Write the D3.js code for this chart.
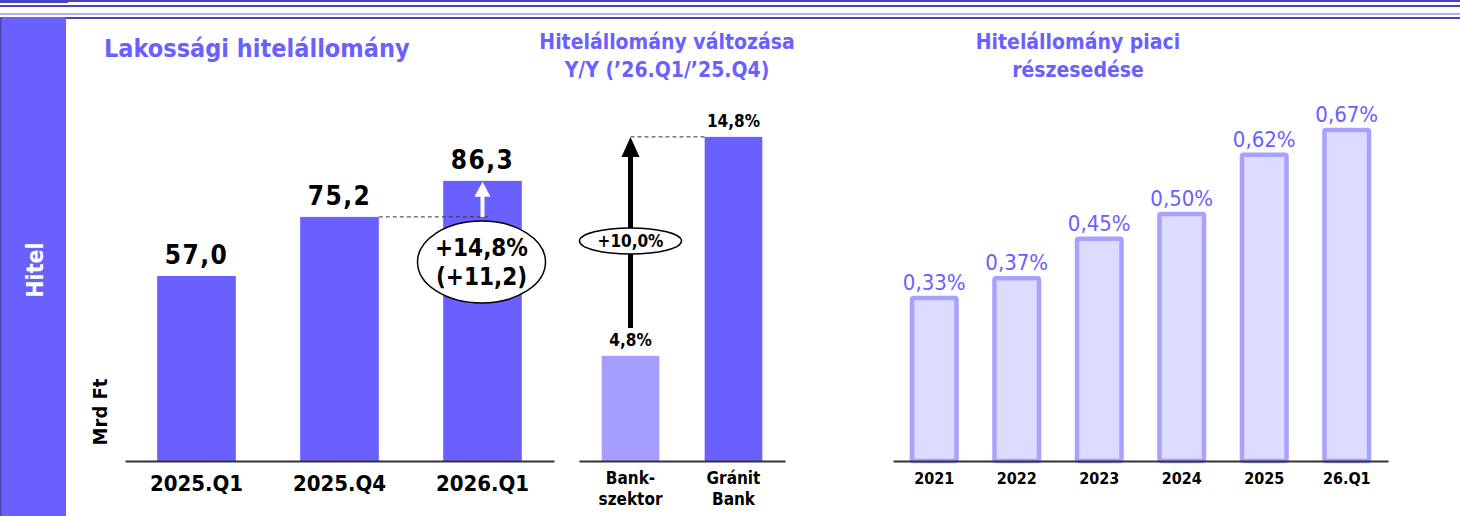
<!DOCTYPE html>
<html lang="hu">
<head>
    <meta charset="UTF-8">
    <title>Hitel</title>
    <script src="https://cdn.jsdelivr.net/npm/d3@7/dist/d3.min.js"></script>
    <style>
        body { margin: 0; background: #fff; }
        text { font-family: "DejaVu Sans Condensed", "DejaVu Sans", sans-serif; }
    </style>
</head>
<body>
<script>
    // data
    const stockCats = ['2025.Q1', '2025.Q4', '2026.Q1'];
    const stockValues = [57.0, 75.2, 86.3];
    const changeLabels = ['+14,8%', '(+11,2)'];

    const growthCats = [['Bank-', 'szektor'], ['Gránit', 'Bank']];
    const growthValues = [4.8, 14.8];
    const gapLabel = '+10,0%';

    const shareCats = ['2021', '2022', '2023', '2024', '2025', '26.Q1'];
    const shareValues = [0.33, 0.37, 0.45, 0.50, 0.62, 0.67];

    const width = 1460, height = 516;
    const purple = '#6a60ff', dark = '#4a44c4', base = 461;
    const hu = d3.formatLocale({decimal: ',', thousands: ' ', grouping: [3], currency: ['', '']});
    const f1 = hu.format('.1f'), f2 = hu.format('.2f');

    const svg = d3.select('body').append('svg').attr('width', width).attr('height', height);

    // header stripes + side panel
    svg.append('rect').attr('x', 0).attr('y', 0).attr('width', width).attr('height', 2).attr('fill', dark);
    svg.append('rect').attr('x', 0).attr('y', 0).attr('width', 68).attr('height', 3).attr('fill', dark);
    svg.append('rect').attr('x', 0).attr('y', 5).attr('width', width).attr('height', 2).attr('fill', dark);
    svg.append('rect').attr('x', 0).attr('y', 13).attr('width', width).attr('height', 2).attr('fill', '#b3afee');
    svg.append('rect').attr('x', 0).attr('y', 17).attr('width', width).attr('height', 2).attr('fill', dark);
    svg.append('rect').attr('x', 0).attr('y', 17).attr('width', 66).attr('height', height - 17).attr('fill', purple);
    svg.append('rect').attr('x', 0).attr('y', 17).attr('width', 1.5).attr('height', height - 17).attr('fill', '#4d48a8');
    svg.append('text').attr('transform', 'translate(43,270) rotate(-90)')
        .attr('text-anchor', 'middle').attr('fill', '#fff').attr('font-weight', 'bold')
        .attr('font-size', 23).text('Hitel');

    // titles
    const title = (x, y, txt, size, anchor) => svg.append('text').attr('x', x).attr('y', y)
        .attr('text-anchor', anchor).attr('fill', purple).attr('font-weight', 'bold')
        .attr('font-size', size).text(txt);
    title(104, 57, 'Lakossági hitelállomány', 25, 'start');
    title(667, 49, 'Hitelállomány változása', 21, 'middle');
    title(667, 77, 'Y/Y (’26.Q1/’25.Q4)', 21, 'middle');
    title(1078, 49, 'Hitelállomány piaci', 21, 'middle');
    title(1078, 77, 'részesedése', 21, 'middle');

    function baseAxis(x) {
        const g = svg.append('g').attr('transform', `translate(0,${base})`)
            .call(d3.axisBottom(x).tickSize(0).tickFormat(''));
        g.select('.domain').attr('stroke', '#333').attr('stroke-width', 2);
        return g;
    }

    // --- left: stock ---
    const x1 = d3.scaleBand().domain(stockCats).range([125, 554]).paddingInner(0.45).paddingOuter(0.225);
    const y1 = d3.scaleLinear().domain([0, 100]).range([base, base - 324.6]);
    svg.append('g').selectAll('rect').data(stockValues).join('rect')
        .attr('x', (d, i) => x1(stockCats[i])).attr('width', x1.bandwidth())
        .attr('y', d => y1(d)).attr('height', d => base - y1(d)).attr('fill', purple);
    svg.append('g').selectAll('text').data(stockValues).join('text')
        .attr('x', (d, i) => x1(stockCats[i]) + x1.bandwidth() / 2).attr('y', d => y1(d) - 12)
        .attr('text-anchor', 'middle').attr('font-weight', 'bold').attr('font-size', 26)
        .attr('letter-spacing', 1.5).text(d => f1(d));
    baseAxis(x1);
    svg.append('g').selectAll('text').data(stockCats).join('text')
        .attr('x', d => x1(d) + x1.bandwidth() / 2).attr('y', base + 30)
        .attr('text-anchor', 'middle').attr('font-weight', 'bold').attr('font-size', 22).text(d => d);
    svg.append('text').attr('transform', 'translate(107,412) rotate(-90)')
        .attr('text-anchor', 'middle').attr('font-weight', 'bold').attr('font-size', 20).text('Mrd Ft');

    const cx3 = x1(stockCats[2]) + x1.bandwidth() / 2;
    svg.append('line').attr('x1', x1(stockCats[1]) + x1.bandwidth()).attr('x2', cx3 + 8)
        .attr('y1', y1(stockValues[1])).attr('y2', y1(stockValues[1]))
        .attr('stroke', '#333').attr('stroke-dasharray', '4,3');
    svg.append('line').attr('x1', cx3).attr('x2', cx3).attr('y1', y1(stockValues[1]))
        .attr('y2', y1(stockValues[2]) + 14).attr('stroke', '#fff').attr('stroke-width', 4);
    svg.append('path').attr('fill', '#fff')
        .attr('d', `M${cx3 - 8},${y1(stockValues[2]) + 16}L${cx3},${y1(stockValues[2]) + 1}L${cx3 + 8},${y1(stockValues[2]) + 16}Z`);
    svg.append('ellipse').attr('cx', cx3 - 1).attr('cy', 262).attr('rx', 64).attr('ry', 41)
        .attr('fill', '#fff').attr('stroke', '#000').attr('stroke-width', 1.5);
    svg.append('g').selectAll('text').data(changeLabels).join('text')
        .attr('x', cx3 - 1).attr('y', (d, i) => 256 + i * 29)
        .attr('text-anchor', 'middle').attr('font-weight', 'bold').attr('font-size', 24).text(d => d);

    // --- middle: growth ---
    const gKey = i => growthCats[i].join(' ');
    const x2 = d3.scaleBand().domain(growthCats.map(d => d.join(' '))).range([579, 785]).paddingInner(0.44).paddingOuter(0.22);
    const y2 = d3.scaleLinear().domain([0, 16]).range([base, base - 350.4]);
    svg.append('g').selectAll('rect').data(growthValues).join('rect')
        .attr('x', (d, i) => x2(gKey(i))).attr('width', x2.bandwidth())
        .attr('y', d => y2(d)).attr('height', d => base - y2(d))
        .attr('fill', (d, i) => i === 0 ? '#a59eff' : purple);
    svg.append('g').selectAll('text').data(growthValues).join('text')
        .attr('x', (d, i) => x2(gKey(i)) + x2.bandwidth() / 2).attr('y', d => y2(d) - 10)
        .attr('text-anchor', 'middle').attr('font-weight', 'bold').attr('font-size', 17)
        .text(d => f1(d) + '%');
    baseAxis(x2);
    growthCats.forEach((lines, i) => {
        svg.append('text').attr('x', x2(gKey(i)) + x2.bandwidth() / 2).attr('y', base + 23)
            .attr('text-anchor', 'middle').attr('font-weight', 'bold').attr('font-size', 17)
            .selectAll('tspan').data(lines).join('tspan')
            .attr('x', x2(gKey(i)) + x2.bandwidth() / 2).attr('dy', (d, j) => j ? 21 : 0).text(d => d);
    });
    const ax = x2(gKey(0)) + x2.bandwidth() / 2;
    svg.append('line').attr('x1', ax).attr('x2', x2(gKey(1))).attr('y1', y2(growthValues[1])).attr('y2', y2(growthValues[1]))
        .attr('stroke', '#333').attr('stroke-dasharray', '4,3');
    svg.append('line').attr('x1', ax).attr('x2', ax).attr('y1', y2(growthValues[0]) - 28).attr('y2', y2(growthValues[1]) + 16)
        .attr('stroke', '#000').attr('stroke-width', 5);
    svg.append('path').attr('fill', '#000')
        .attr('d', `M${ax - 9},${y2(growthValues[1]) + 20}L${ax},${y2(growthValues[1])}L${ax + 9},${y2(growthValues[1]) + 20}Z`);
    svg.append('ellipse').attr('cx', ax).attr('cy', 241).attr('rx', 51).attr('ry', 13)
        .attr('fill', '#fff').attr('stroke', '#000').attr('stroke-width', 1.5);
    svg.append('text').attr('x', ax).attr('y', 247).attr('text-anchor', 'middle')
        .attr('font-weight', 'bold').attr('font-size', 17).text(gapLabel);

    // --- right: market share ---
    const x3 = d3.scaleBand().domain(shareCats).range([893, 1388]).paddingInner(0.46).paddingOuter(0.23);
    const y3 = d3.scaleLinear().domain([0, 0.7]).range([base, base - 345.8]);
    svg.append('g').selectAll('rect').data(shareValues).join('rect')
        .attr('x', (d, i) => x3(shareCats[i])).attr('width', x3.bandwidth())
        .attr('y', d => y3(d)).attr('height', d => base - y3(d))
        .attr('fill', '#dddbff').attr('stroke', '#a8a2ff').attr('stroke-width', 4.5).attr('rx', 1.5);
    svg.append('g').selectAll('text').data(shareValues).join('text')
        .attr('x', (d, i) => x3(shareCats[i]) + x3.bandwidth() / 2).attr('y', d => y3(d) - 8)
        .attr('text-anchor', 'middle').attr('fill', purple).attr('font-size', 22)
        .text(d => f2(d) + '%');
    baseAxis(x3);
    svg.append('g').selectAll('text').data(shareCats).join('text')
        .attr('x', d => x3(d) + x3.bandwidth() / 2).attr('y', base + 23)
        .attr('text-anchor', 'middle').attr('font-weight', 'bold').attr('font-size', 16).text(d => d);
</script>
</body>
</html>
